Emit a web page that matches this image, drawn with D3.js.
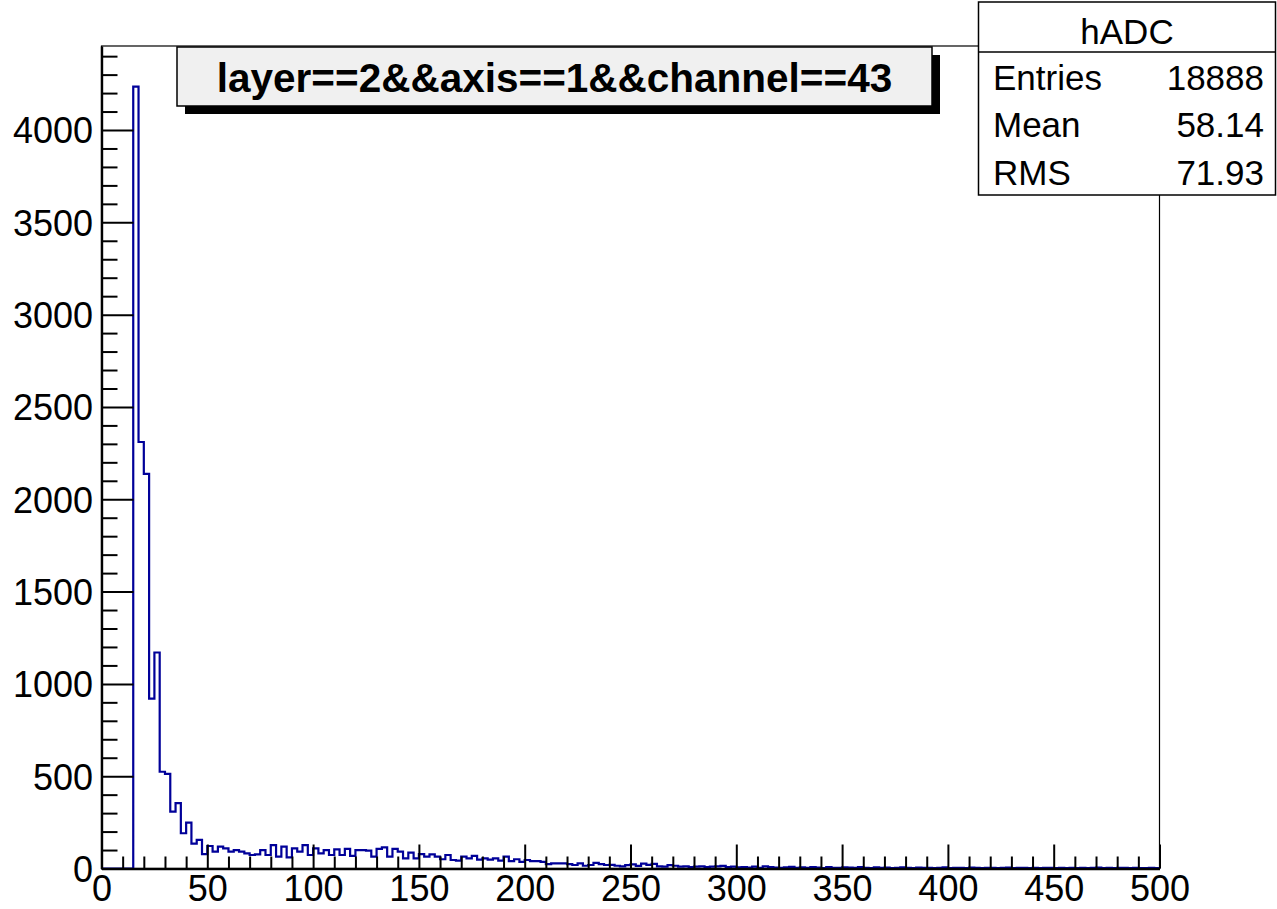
<!DOCTYPE html>
<html>
<head>
<meta charset="utf-8">
<script src="https://cdn.jsdelivr.net/npm/d3@7/dist/d3.min.js"></script>
<style>
  html, body { margin: 0; padding: 0; background: #fff; }
  svg { display: block; }
  text { font-family: "Liberation Sans", Arial, Helvetica, sans-serif; }
</style>
</head>
<body>
<svg id="chart" width="1277" height="909"></svg>
<script>
// ---- data ----
const histName = "hADC";
const histTitle = "layer==2&&axis==1&&channel==43";
const binWidth = 2.5;
const xRange = [0, 500];
const counts = [
  0,0,0,0,0,0,
  4235,2310,2137,920,1170,524,513,308,354,191,
  248,135,155,78,
  122,91,118,109,91,100,91,82,73,76,
  100,73,127,64,118,60,109,91,127,73,
  109,82,100,73,104,73,106,68,100,100,
  97,64,106,114,64,106,91,55,86,55,
  78,64,77,64,50,73,46,43,64,55,
  68,48,55,48,55,43,64,40,50,36,
  46,40,40,36,24,28,28,28,24,19,
  28,15,19,30,24,19,20,15,12,18,
  22,14,26,20,25,12,10,18,15,10,
  12,8,10,12,8,10,12,14,8,10,
  6,
  8,5,10,4,12,7,5,3,6,9,
  4,6,3,8,5,2,7,4,3,6,
  5,3,8,4,2,6,3,5,2,4,
  6,3,2,5,3,4,2,3,6,2,
  3,4,2,5,3,2,4,3,2,3,
  5,2,3,4,2,3,2,4,3,2,
  3,2,4,2,3,2,3,5,2,3,
  2,4,3,2,3,2,2,3,2
];
const yMax = 4455;
const xMajorTicks = [0,50,100,150,200,250,300,350,400,450,500];
const yMajorTicks = [0,500,1000,1500,2000,2500,3000,3500,4000];
const statLabels = ["Entries", "Mean", "RMS"];
const statValues = ["18888", "58.14", "71.93"];

// ---- layout ----
const L = 101.5, R = 1159.5, T = 46, B = 868.5;
const svg = d3.select("#chart");

const x = d3.scaleLinear().domain(xRange).range([L, R]);
const y = d3.scaleLinear().domain([0, yMax]).range([B, T]);

// frame
svg.append("rect").attr("x", L).attr("y", T).attr("width", R - L).attr("height", B - T)
  .attr("fill", "none").attr("stroke", "#000").attr("stroke-width", 1.2);

// histogram step path
const bins = counts.map((c, i) => ({ x0: xRange[0] + i * binWidth, x1: xRange[0] + (i + 1) * binWidth, c }));
let d = `M${x(bins[0].x0)},${y(0)}`;
bins.forEach(b => { d += `L${x(b.x0)},${y(b.c)}L${x(b.x1)},${y(b.c)}`; });
d += `L${x(xRange[1])},${y(0)}`;
svg.append("path").attr("d", d).attr("fill", "none")
  .attr("stroke", "#000099").attr("stroke-width", 2.2).attr("stroke-linejoin", "miter");

// x axis
const xMinor = d3.range(0, 501, 10).filter(v => v % 50 !== 0);
const xAxisMajor = d3.axisBottom(x).tickValues(xMajorTicks).tickSizeInner(-24).tickSizeOuter(0)
  .tickPadding(34).tickFormat(d3.format("d"));
const gx = svg.append("g").attr("transform", `translate(0,${B})`).call(xAxisMajor);
gx.select(".domain").attr("stroke-width", 2.4);
gx.selectAll(".tick line").attr("stroke-width", 2);
gx.selectAll(".tick text").attr("font-size", 36).attr("dy", 0).attr("y", 32.5).attr("fill", "#000")
  .style("font-family", "'Liberation Sans', Arial, sans-serif");
const gxm = svg.append("g").attr("transform", `translate(0,${B})`)
  .call(d3.axisBottom(x).tickValues(xMinor).tickSizeInner(-12).tickSizeOuter(0).tickFormat(""));
gxm.select(".domain").remove();
gxm.selectAll(".tick line").attr("stroke-width", 2);

// y axis
const yMinor = d3.range(0, 4455, 100).filter(v => v % 500 !== 0);
const yAxisMajor = d3.axisLeft(y).tickValues(yMajorTicks).tickSizeInner(-32).tickSizeOuter(0)
  .tickPadding(40).tickFormat(d3.format("d"));
const gy = svg.append("g").attr("transform", `translate(${L},0)`).call(yAxisMajor);
gy.select(".domain").attr("stroke-width", 2.4);
gy.selectAll(".tick line").attr("stroke-width", 2);
gy.selectAll(".tick text").attr("font-size", 36).attr("x", -8.5).attr("dy", "0.36em").attr("fill", "#000")
  .style("font-family", "'Liberation Sans', Arial, sans-serif");
const gym = svg.append("g").attr("transform", `translate(${L},0)`)
  .call(d3.axisLeft(y).tickValues(yMinor).tickSizeInner(-16).tickSizeOuter(0).tickFormat(""));
gym.select(".domain").remove();
gym.selectAll(".tick line").attr("stroke-width", 2);

// title box with shadow
const tb = { x: 177, y: 47, w: 755, h: 59, s: 8 };
svg.append("rect").attr("x", tb.x + tb.s).attr("y", tb.y + tb.s).attr("width", tb.w).attr("height", tb.h).attr("fill", "#000");
svg.append("rect").attr("x", tb.x).attr("y", tb.y).attr("width", tb.w).attr("height", tb.h)
  .attr("fill", "#f0f0f0").attr("stroke", "#000").attr("stroke-width", 1.5);
svg.append("text").attr("x", tb.x + tb.w / 2).attr("y", 92).attr("text-anchor", "middle")
  .attr("font-size", 40.5).attr("font-weight", "bold").attr("fill", "#000").text(histTitle);

// stats box
const sb = { x: 978.5, y: 2, w: 297, h: 193 };
svg.append("rect").attr("x", sb.x).attr("y", sb.y).attr("width", sb.w).attr("height", sb.h)
  .attr("fill", "#fff").attr("stroke", "#000").attr("stroke-width", 1.5);
svg.append("line").attr("x1", sb.x).attr("x2", sb.x + sb.w).attr("y1", 52).attr("y2", 52)
  .attr("stroke", "#000").attr("stroke-width", 1.5);
svg.append("text").attr("x", sb.x + sb.w / 2).attr("y", 44).attr("text-anchor", "middle")
  .attr("font-size", 35).attr("fill", "#000").text(histName);
const rowY = d3.scalePoint().domain(statLabels).range([89.5, 184.5]);
statLabels.forEach((lab, i) => {
  svg.append("text").attr("x", 993).attr("y", rowY(lab)).attr("font-size", 35).attr("fill", "#000").text(lab);
  svg.append("text").attr("x", 1264).attr("y", rowY(lab)).attr("text-anchor", "end")
    .attr("font-size", 35).attr("fill", "#000").text(statValues[i]);
});
</script>
</body>
</html>
